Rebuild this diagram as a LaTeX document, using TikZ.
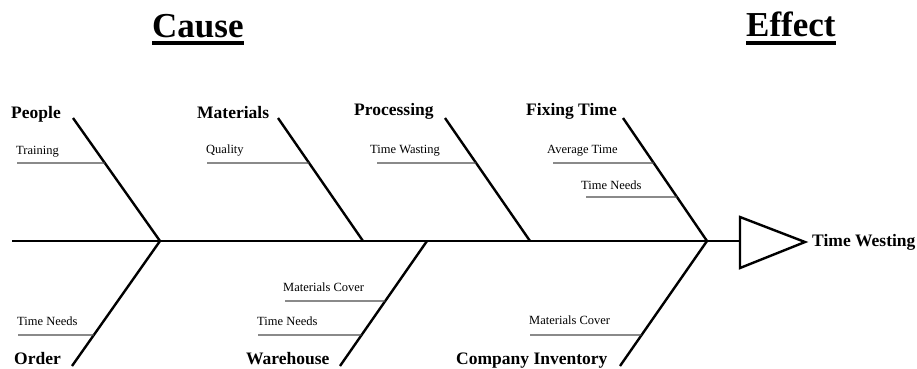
\documentclass[tikz,border=0pt]{standalone}
\usepackage{fontspec}
\setmainfont{Liberation Serif}
\usetikzlibrary{calc}
\begin{document}
\begin{tikzpicture}[x=1pt,y=-1pt,
  bone/.style={line width=2.4pt,black},
  spine/.style={line width=2.8pt,black},
  subline/.style={line width=1.2pt,black!70},
  cat/.style={inner sep=0pt,anchor=base west,font=\fontsize{17.5}{20}\selectfont\bfseries},
  sub/.style={inner sep=0pt,anchor=base west,font=\fontsize{12.5}{14}\selectfont},
  title/.style={inner sep=0pt,anchor=base west,font=\fontsize{35}{40}\selectfont\bfseries}]
\useasboundingbox (0,0) rectangle (917,368);
% titles
\node[title] (cause) at (152,37) {Cause};
\node[title] (effect) at (746,36) {Effect};
\draw[line width=3.2pt] (cause.west |- 0,43) coordinate (cu1) -- (cause.east |- 0,43) coordinate (cu2);
\draw[line width=3.2pt] (effect.west |- 0,43) coordinate (eu1) -- (effect.east |- 0,43) coordinate (eu2);
% spine and head
\coordinate (s0) at (12,241);
\coordinate (s1) at (740,241);
\draw[spine] (s0) -- (s1);
\coordinate (h1) at (740,217);
\coordinate (h2) at (805,242);
\coordinate (h3) at (740,268);
\draw[line width=2.4pt,line join=miter] (h1) -- (h2) -- (h3) -- cycle;
\node[cat] (effectlbl) at (812,246) {Time Westing};
% upper bones
\coordinate (pt) at (73,118);   \coordinate (pb) at (160,241);
\coordinate (mt) at (278,118);  \coordinate (mb) at (363,241);
\coordinate (prt) at (445,118); \coordinate (prb) at (530,241);
\coordinate (ft) at (623,118);  \coordinate (fb) at (707,241);
\draw[bone] (pt) -- (pb);
\draw[bone] (mt) -- (mb);
\draw[bone] (prt) -- (prb);
\draw[bone] (ft) -- (fb);
% lower bones
\coordinate (ob) at (72,366);
\coordinate (wt) at (427,241);  \coordinate (wb) at (340,366);
\coordinate (cb) at (620,366);
\draw[bone] (pb) -- (ob);
\draw[bone] (wt) -- (wb);
\draw[bone] (fb) -- (cb);
% category labels
\node[cat] (people) at (11,118) {People};
\node[cat] (materials) at (197,118) {Materials};
\node[cat] (processing) at (354,115) {Processing};
\node[cat] (fixing) at (526,115) {Fixing Time};
\node[cat] (order) at (14,364) {Order};
\node[cat] (warehouse) at (246,364) {Warehouse};
\node[cat] (company) at (456,364) {Company Inventory};
% sub causes (upper)
\coordinate (tr0) at (17,163);  \coordinate (tr1) at ($(pt)!0.366!(pb)$);
\draw[subline] (tr0) -- (tr1);
\node[sub] (training) at (16,154) {Training};
\coordinate (q0) at (207,163);  \coordinate (q1) at ($(mt)!0.366!(mb)$);
\draw[subline] (q0) -- (q1);
\node[sub] (quality) at (206,153) {Quality};
\coordinate (tw0) at (377,163); \coordinate (tw1) at ($(prt)!0.366!(prb)$);
\draw[subline] (tw0) -- (tw1);
\node[sub] (timewasting) at (370,153) {Time Wasting};
\coordinate (at0) at (553,163); \coordinate (at1) at ($(ft)!0.366!(fb)$);
\draw[subline] (at0) -- (at1);
\node[sub] (avgtime) at (547,153) {Average Time};
\coordinate (tn0) at (586,197); \coordinate (tn1) at ($(ft)!0.642!(fb)$);
\draw[subline] (tn0) -- (tn1);
\node[sub] (timeneedsA) at (581,189) {Time Needs};
% sub causes (lower)
\coordinate (otn0) at (18,335); \coordinate (otn1) at ($(pb)!0.752!(ob)$);
\draw[subline] (otn0) -- (otn1);
\node[sub] (timeneedsB) at (17,325) {Time Needs};
\coordinate (wmc0) at (285,301); \coordinate (wmc1) at ($(wt)!0.48!(wb)$);
\draw[subline] (wmc0) -- (wmc1);
\node[sub] (matcoverA) at (283,291) {Materials Cover};
\coordinate (wtn0) at (258,335); \coordinate (wtn1) at ($(wt)!0.752!(wb)$);
\draw[subline] (wtn0) -- (wtn1);
\node[sub] (timeneedsC) at (257,325) {Time Needs};
\coordinate (cmc0) at (530,335); \coordinate (cmc1) at ($(fb)!0.752!(cb)$);
\draw[subline] (cmc0) -- (cmc1);
\node[sub] (matcoverB) at (529,324) {Materials Cover};
\end{tikzpicture}
\end{document}
